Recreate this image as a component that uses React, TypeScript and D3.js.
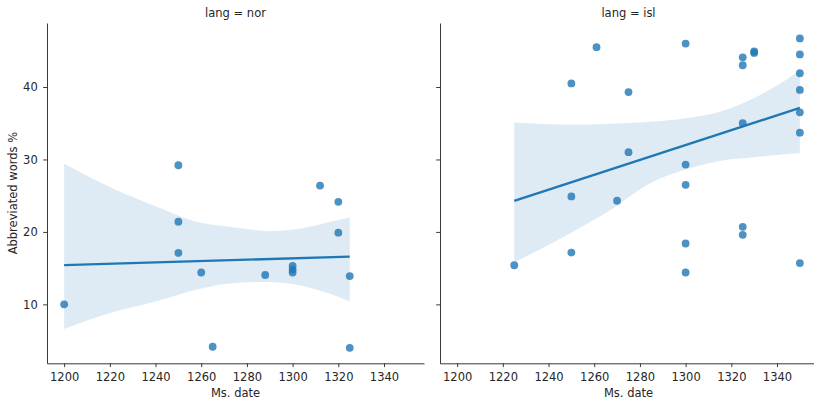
import * as React from 'react'
import * as d3 from 'd3'

const {useRef, useEffect} = React

// facet values
const langs = ['nor', 'isl']

// lang = nor
const norDate = [1200, 1250, 1250, 1250, 1260, 1265, 1288, 1300, 1300, 1300, 1312, 1320, 1320, 1325, 1325]
const norAbbr = [10.0, 29.2, 21.4, 17.1, 14.4, 4.15, 14.05, 15.3, 14.8, 14.4, 26.4, 24.15, 19.9, 13.9, 4.0]

// lang = isl
const islDate = [1225, 1250, 1250, 1250, 1261, 1270, 1275, 1275, 1300, 1300, 1300, 1300, 1300,
  1325, 1325, 1325, 1325, 1325, 1330, 1330, 1350, 1350, 1350, 1350, 1350, 1350, 1350]
const islAbbr = [15.4, 40.5, 24.9, 17.15, 45.5, 24.3, 39.3, 31.0, 46.0, 29.3, 26.5, 18.4, 14.4,
  44.1, 43.0, 35.0, 20.7, 19.6, 44.9, 44.7, 46.7, 44.5, 41.9, 39.6, 36.5, 33.7, 15.7]

// 95% ci band edges
const norBandDate = [1200, 1220, 1240, 1260, 1275, 1290, 1300, 1310, 1318, 1325]
const norBandLow = [6.6, 8.8, 10.4, 12.2, 12.95, 13.1, 12.8, 12.1, 11.3, 10.4]
const norBandHigh = [29.4, 26.2, 23.55, 21.25, 20.6, 20.1, 20.3, 20.9, 21.5, 22.0]

const islBandDate = [1225, 1250, 1265, 1285, 1300, 1315, 1330, 1340, 1350]
const islBandLow = [15.8, 19.9, 22.6, 26.8, 28.6, 29.8, 30.3, 30.6, 30.9]
const islBandHigh = [35.1, 34.8, 34.9, 35.2, 35.7, 36.6, 38.5, 40.2, 42.3]

const xTicks = [1200, 1220, 1240, 1260, 1280, 1300, 1320, 1340]
const yTicks = [10, 20, 30, 40]

const dates = [norDate, islDate]
const abbrs = [norAbbr, islAbbr]
const bandDates = [norBandDate, islBandDate]
const bandLows = [norBandLow, islBandLow]
const bandHighs = [norBandHigh, islBandHigh]

const W = 814
const H = 402
const top = 23
const bottom = 363.3
const panelX = [[47, 424], [440, 817]]
const blue = '#1f77b4'
const font = '"DejaVu Sans", sans-serif'
const fs = 11.5

function pad(ext: number[]) {
  const p = (ext[1] - ext[0]) * 0.05
  return [ext[0] - p, ext[1] + p]
}

function fit(xs: number[], ys: number[]) {
  const mx = d3.mean(xs) as number
  const my = d3.mean(ys) as number
  let sxy = 0
  let sxx = 0
  xs.forEach((x, i) => {
    sxy += (x - mx) * (ys[i] - my)
    sxx += (x - mx) * (x - mx)
  })
  const b = sxy / sxx
  return (x: number) => my + b * (x - mx)
}

export default function App() {
  const ref = useRef<SVGSVGElement>(null)

  useEffect(() => {
    const svg = d3.select(ref.current)
    svg.selectAll('*').remove()

    const allX = dates.flat()
    const allY = abbrs.flat()
    const xDom = pad(d3.extent(allX) as number[])
    const yDom = pad(d3.extent(allY) as number[])
    const y = d3.scaleLinear().domain(yDom).range([bottom, top])

    langs.forEach((lang, k) => {
      const x = d3.scaleLinear().domain(xDom).range(panelX[k])
      const g = svg.append('g')

      // ci band
      const band = d3.area<number>()
        .x(i => x(bandDates[k][i]))
        .y0(i => y(bandLows[k][i]))
        .y1(i => y(bandHighs[k][i]))
        .curve(d3.curveMonotoneX)
      g.append('path')
        .attr('d', band(d3.range(bandDates[k].length)))
        .attr('fill', blue)
        .attr('fill-opacity', 0.15)

      // points
      g.selectAll('circle')
        .data(dates[k])
        .join('circle')
        .attr('cx', d => x(d))
        .attr('cy', (d, i) => y(abbrs[k][i]))
        .attr('r', 3.9)
        .attr('fill', blue)
        .attr('fill-opacity', 0.8)

      // regression line
      const f = fit(dates[k], abbrs[k])
      const ext = d3.extent(dates[k]) as number[]
      g.append('line')
        .attr('x1', x(ext[0]))
        .attr('x2', x(ext[1]))
        .attr('y1', y(f(ext[0])))
        .attr('y2', y(f(ext[1])))
        .attr('stroke', blue)
        .attr('stroke-width', 2.4)

      // axes
      const xa = g.append('g')
        .attr('transform', `translate(0,${bottom})`)
        .call(d3.axisBottom(x).tickValues(xTicks).tickSize(3.8).tickSizeOuter(0).tickPadding(5.6)
          .tickFormat(d3.format('d')))
      const ya = g.append('g')
        .attr('transform', `translate(${panelX[k][0]},0)`)
        .call(d3.axisLeft(y).tickValues(yTicks).tickSize(3.8).tickSizeOuter(0).tickPadding(5.5)
          .tickFormat(k === 0 ? d3.format('d') : () => ''))
      ;[xa, ya].forEach(a => {
        a.select('.domain').attr('stroke', '#3a3a3a').attr('stroke-width', 1)
        a.selectAll('.tick line').attr('stroke', '#3a3a3a').attr('stroke-width', 1)
        a.selectAll('.tick text').attr('fill', '#262626').attr('font-size', fs).attr('font-family', font)
      })

      const cx = (panelX[k][0] + panelX[k][1]) / 2
      g.append('text')
        .attr('x', cx)
        .attr('y', 16.8)
        .attr('text-anchor', 'middle')
        .attr('font-size', fs)
        .attr('font-family', font)
        .attr('fill', '#262626')
        .text(`lang = ${lang}`)
      g.append('text')
        .attr('x', cx)
        .attr('y', 397)
        .attr('text-anchor', 'middle')
        .attr('font-size', fs)
        .attr('font-family', font)
        .attr('fill', '#262626')
        .text('Ms. date')
    })

    svg.append('text')
      .attr('transform', `translate(16.5,${(top + bottom) / 2}) rotate(-90)`)
      .attr('text-anchor', 'middle')
      .attr('font-size', fs)
      .attr('font-family', font)
      .attr('fill', '#262626')
      .text('Abbreviated words %')
  }, [])

  return (
    <svg ref={ref} width={W} height={H}
      style={{position: 'absolute', left: 0, top: 0, background: '#fff'}} />
  )
}
